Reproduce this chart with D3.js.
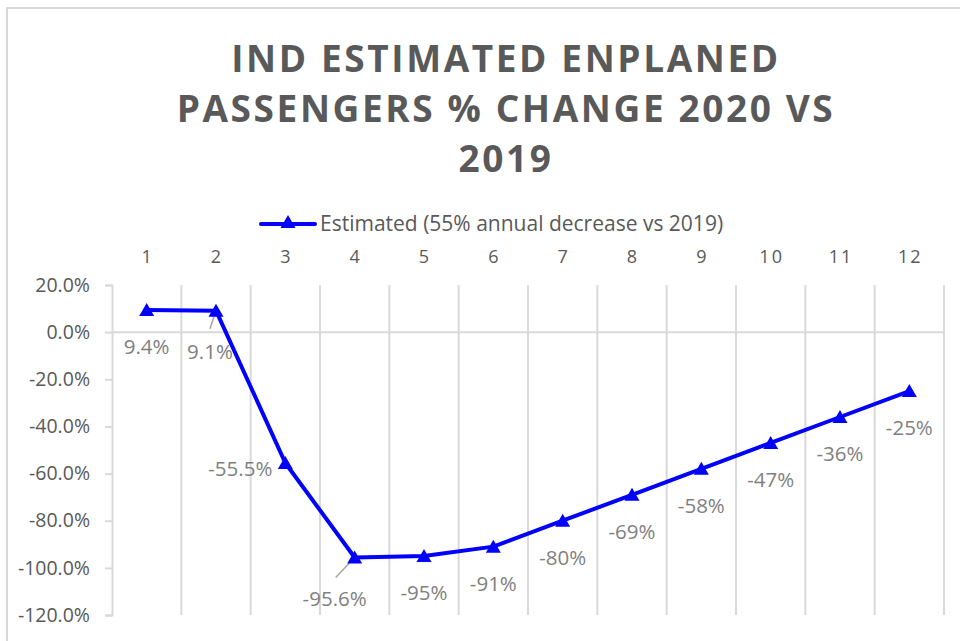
<!DOCTYPE html>
<html>
<head>
<meta charset="utf-8">
<script src="https://cdn.jsdelivr.net/npm/d3@7"></script>
<style>
  body { margin: 0; background: #fff; }
  svg { display: block; font-family: "Open Sans", "Liberation Sans", sans-serif; }
</style>
</head>
<body>
<div id="chart"></div>
<script>
// Data
var months = ["1", "2", "3", "4", "5", "6", "7", "8", "9", "10", "11", "12"];
var pctChange = [0.094, 0.091, -0.555, -0.956, -0.95, -0.91, -0.80, -0.69, -0.58, -0.47, -0.36, -0.25];
var pctLabels = ["9.4%", "9.1%", "-55.5%", "-95.6%", "-95%", "-91%", "-80%", "-69%", "-58%", "-47%", "-36%", "-25%"];
var yTicks = [0.2, 0, -0.2, -0.4, -0.6, -0.8, -1.0, -1.2];
var titleLines = ["IND ESTIMATED ENPLANED", "PASSENGERS % CHANGE 2020 VS", "2019"];
var seriesName = "Estimated (55% annual decrease vs 2019)";

var width = 960, height = 641;
var margin = { top: 285, right: 16, bottom: 26, left: 112 };

var svg = d3.select("#chart").append("svg")
    .attr("width", width)
    .attr("height", height);

// chart frame (only top and left edges are visible in the picture)
svg.append("path")
    .attr("d", "M7,641V8H960")
    .attr("fill", "none")
    .attr("stroke", "#d9d9d9")
    .attr("stroke-width", 2);

// Title
svg.append("g")
    .selectAll("text")
    .data(titleLines)
    .enter().append("text")
    .attr("x", 506)
    .attr("y", function (d, i) { return 72 + i * 50; })
    .attr("text-anchor", "middle")
    .attr("fill", "#595959")
    .style("font-size", "37px")
    .style("font-weight", "bold")
    .style("letter-spacing", "2.6px")
    .text(function (d) { return d; });

// Scales
var x = d3.scaleBand()
    .domain(months)
    .range([margin.left, width - margin.right]);

var y = d3.scaleLinear()
    .domain([-1.2, 0.2])
    .range([height - margin.bottom, margin.top]);

// triangle marker
function triangle(cx, cy) {
    return "M" + cx + "," + (cy - 7) + "L" + (cx + 7.5) + "," + (cy + 6) + "L" + (cx - 7.5) + "," + (cy + 6) + "Z";
}

// hyphen instead of unicode minus, like the original
var pctFmt = function (v) { return d3.format(".1%")(v).replace("\u2212", "-"); };

// Vertical gridlines on category boundaries
var bounds = months.map(function (m) { return x(m); }).concat([x.range()[1]]);
svg.append("g")
    .selectAll("line")
    .data(bounds.slice(1))
    .enter().append("line")
    .attr("x1", function (d) { return d; })
    .attr("x2", function (d) { return d; })
    .attr("y1", y(0.2))
    .attr("y2", y(-1.2))
    .attr("stroke", "#d9d9d9")
    .attr("stroke-width", 2);

// Y axis
var yAxis = svg.append("g")
    .attr("transform", "translate(" + margin.left + ",0)")
    .call(d3.axisLeft(y).tickValues(yTicks).tickFormat(pctFmt).tickSize(7).tickPadding(15));
yAxis.select(".domain").attr("stroke", "#d9d9d9").attr("stroke-width", 2);
yAxis.selectAll(".tick line").attr("stroke", "#d9d9d9").attr("stroke-width", 2);
yAxis.selectAll(".tick text")
    .attr("fill", "#595959")
    .style("font-size", "19.5px")
    .style("font-family", "'Open Sans', sans-serif");

// Category axis line at 0
svg.append("line")
    .attr("x1", margin.left)
    .attr("x2", x.range()[1])
    .attr("y1", y(0))
    .attr("y2", y(0))
    .attr("stroke", "#d9d9d9")
    .attr("stroke-width", 2);

// Category labels on top
svg.append("g")
    .selectAll("text")
    .data(months)
    .enter().append("text")
    .attr("x", function (d) { return x(d) + x.bandwidth() / 2 + 1; })
    .attr("y", 263)
    .attr("text-anchor", "middle")
    .attr("fill", "#595959")
    .style("font-size", "18px")
    .style("letter-spacing", "2px")
    .text(function (d) { return d; });

// Legend
var legend = svg.append("g");
legend.append("line")
    .attr("x1", 261).attr("x2", 315)
    .attr("y1", 224).attr("y2", 224)
    .attr("stroke", "#0000ff")
    .attr("stroke-width", 4)
    .attr("stroke-linecap", "round");
legend.append("path")
    .attr("d", triangle(288, 222))
    .attr("fill", "#0000ff");
legend.append("text")
    .attr("x", 320)
    .attr("y", 231)
    .attr("fill", "#595959")
    .style("font-size", "21px")
    .text(seriesName);

// Series
var pts = pctChange.map(function (v, i) {
    return { x: x(months[i]) + x.bandwidth() / 2, y: y(v), label: pctLabels[i], i: i };
});

svg.append("path")
    .datum(pts)
    .attr("d", d3.line().x(function (d) { return d.x; }).y(function (d) { return d.y; }))
    .attr("fill", "none")
    .attr("stroke", "#0000ff")
    .attr("stroke-width", 4)
    .attr("stroke-linejoin", "round");

// where each data label sits; two were dragged away and got leader lines
function labelSpot(d) {
    if (d.i === 1) return { x: d.x - 6, y: d.y + 48, anchor: "middle", leader: true };
    if (d.i === 2) return { x: d.x - 13, y: d.y + 13, anchor: "end", leader: false };
    if (d.i === 3) return { x: d.x - 20, y: d.y + 49, anchor: "middle", leader: true };
    return { x: d.x, y: d.y + 44, anchor: "middle", leader: false };
}

svg.append("g")
    .selectAll("line")
    .data(pts.filter(function (d) { return labelSpot(d).leader; }))
    .enter().append("line")
    .attr("x1", function (d) { return d.x; })
    .attr("y1", function (d) { return d.y; })
    .attr("x2", function (d) { return d.i === 1 ? d.x - 6 : d.x - 19; })
    .attr("y2", function (d) { return d.i === 1 ? d.y + 18 : d.y + 20; })
    .attr("stroke", "#a6a6a6")
    .attr("stroke-width", 1.5);

svg.append("g")
    .selectAll("path")
    .data(pts)
    .enter().append("path")
    .attr("d", function (d) { return triangle(d.x, d.y); })
    .attr("fill", "#0000ff");

svg.append("g")
    .selectAll("text")
    .data(pts)
    .enter().append("text")
    .attr("x", function (d) { return labelSpot(d).x; })
    .attr("y", function (d) { return labelSpot(d).y; })
    .attr("text-anchor", function (d) { return labelSpot(d).anchor; })
    .attr("fill", "#7f7f7f")
    .style("font-size", "20.5px")
    .text(function (d) { return d.label; });
</script>
</body>
</html>
